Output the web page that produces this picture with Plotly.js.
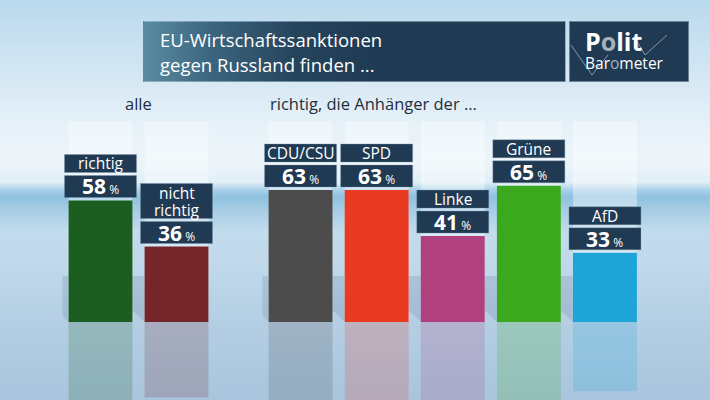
<!DOCTYPE html>
<html>
<head>
<meta charset="utf-8">
<script src="https://cdn.plot.ly/plotly-3.0.1.min.js"></script>
<style>
  html, body { margin: 0; padding: 0; }
  #wrap {
    position: relative; width: 710px; height: 400px; overflow: hidden;
    background: linear-gradient(to bottom, #b9d9ed 0px, #cfe4f2 60px, #e4f0f8 120px, #edf5fa 160px, #e2eff7 182px, #a9d0e8 190px, #8ec2e0 197px, #a3cbe4 208px, #c3dced 232px, #c1d9eb 262px, #b8d2e6 300px, #aecae1 360px, #a9c5de 400px);
  }
  #titlebox {
    position: absolute; left: 143px; top: 21px; width: 423px; height: 61px; box-sizing: border-box;
    background: linear-gradient(to right, #5a8ca1 0%, #3b657e 16%, #25445c 36%, #1f3b53 55%, #1f3b53 100%);
    border: 1px solid rgba(200,225,240,0.45);
  }
  #logobox {
    position: absolute; left: 569px; top: 21px; width: 120px; height: 61px; box-sizing: border-box;
    background: #1f3a52; border: 1px solid rgba(200,225,240,0.45);
  }
  #chart { position: absolute; left: 0; top: 0; width: 710px; height: 400px; }
</style>
</head>
<body>
<div id="wrap">
  <div id="titlebox"></div>
  <div id="logobox"></div>
  <div id="chart"></div>
</div>
<script>
// ---- data ----
const titleLines = ['EU-Wirtschaftssanktionen', 'gegen Russland finden ...'];
const headingAll = 'alle';
const headingParties = 'richtig, die Anhänger der ...';
const categoriesAll = ['richtig', 'nicht richtig'];
const labelsAll = ['richtig', 'nicht<br>richtig'];
const valuesAll = [58, 36];
const categoriesParties = ['CDU/CSU', 'SPD', 'Linke', 'Grüne', 'AfD'];
const labelsParties = ['CDU/CSU', 'SPD', 'Linke', 'Grüne', 'AfD'];
const valuesParties = [63, 63, 41, 65, 33];
const colorsAll = ['#1b5e1f', '#74262a'];
const colorsParties = ['#4c4c4c', '#e83b22', '#b0407e', '#3aa91e', '#1ea4d6'];
const scaleMax = 96;

// ---- helpers ----
const W = 710, H = 400, floorY = 322, pxPerPct = 2.095;
function rgba(hex, a) {
  const n = parseInt(hex.slice(1), 16);
  return `rgba(${(n >> 16) & 255},${(n >> 8) & 255},${n & 255},${a})`;
}
const font = 'Open Sans, Noto Sans, sans-serif';
const boxColor = '#1f3a52';

function groupTraces(cats, vals, cols, xaxis) {
  return [
    { type: 'bar', x: cats, y: cats.map(() => scaleMax), xaxis: xaxis, yaxis: 'y',
      marker: { color: 'rgba(255,255,255,0.38)', line: { width: 0 } }, hoverinfo: 'skip' },
    { type: 'bar', x: cats, y: vals.map(v => -v), xaxis: xaxis, yaxis: 'y',
      marker: { color: cols.map(c => rgba(c, 0.2)), line: { width: 0 } }, hoverinfo: 'skip' },
    { type: 'bar', x: cats, y: vals, xaxis: xaxis, yaxis: 'y',
      marker: { color: cols, line: { width: 0 } }, hoverinfo: 'skip' }
  ];
}

// label boxes (shapes anchored at each bar top, sized in pixels) + their texts
const valueBoxH = 22, nameLineH = 16.5, gap = 3;
function labelBoxes(cats, labels, vals, xref) {
  const out = [];
  cats.forEach((c, i) => {
    const lines = labels[i].split('<br>').length;
    const nameH = lines > 1 ? 35 : 18;
    const base = { type: 'rect', xref: xref, yref: 'y', xsizemode: 'pixel', ysizemode: 'pixel',
      xanchor: c, yanchor: vals[i], x0: -36, x1: 36, fillcolor: boxColor,
      line: { width: 1, color: 'rgba(120,150,175,0.35)' }, layer: 'above' };
    out.push(Object.assign({}, base, { y0: gap, y1: gap + valueBoxH }));
    out.push(Object.assign({}, base, { y0: 2 * gap + valueBoxH, y1: 2 * gap + valueBoxH + nameH }));
  });
  return out;
}
function labelTexts(cats, labels, vals, xref) {
  const out = [];
  cats.forEach((c, i) => {
    out.push({
      x: c, xref: xref, y: vals[i], yref: 'y', yanchor: 'middle', yshift: gap + valueBoxH / 2,
      text: `<b>${vals[i]}</b><span style="font-size:12px"> %</span>`,
      font: { family: font, size: 21, color: '#ffffff' }, showarrow: false
    });
    const lines = labels[i].split('<br>');
    const nameH = lines.length > 1 ? 35 : 18;
    const top = 2 * gap + valueBoxH + nameH;
    const mid = 2 * gap + valueBoxH + nameH / 2;
    lines.forEach((ln, k) => {
      const center = lines.length > 1 ? top - 9.5 - k * nameLineH : mid;
      out.push({
        x: c, xref: xref, y: vals[i], yref: 'y', yanchor: 'middle', yshift: center,
        text: ln, font: { family: font, size: 15.5, color: '#ffffff' }, showarrow: false, borderpad: 0
      });
    });
  });
  return out;
}

function shadowShapes(cats, xref) {
  return cats.map(c => ({
    type: 'path', xref: xref, yref: 'y', xsizemode: 'pixel', ysizemode: 'pixel',
    xanchor: c, yanchor: 0,
    path: 'M-32,0 L-80,46 L-32,46 Z',
    fillcolor: 'rgba(60,90,120,0.15)', line: { width: 0 }, layer: 'below'
  }));
}

const traces = [
  ...groupTraces(categoriesAll, valuesAll, colorsAll, 'x'),
  ...groupTraces(categoriesParties, valuesParties, colorsParties, 'x2')
];

const annotations = [
  { x: 158 / W, y: 1 - 40 / H, xref: 'paper', yref: 'paper', xanchor: 'left', yanchor: 'middle',
    text: titleLines[0], showarrow: false, font: { family: font, size: 18.5, color: '#ffffff' } },
  { x: 158 / W, y: 1 - 65 / H, xref: 'paper', yref: 'paper', xanchor: 'left', yanchor: 'middle',
    text: titleLines[1], showarrow: false, font: { family: font, size: 18.5, color: '#ffffff' } },
  { x: 584 / W, y: 1 - 41 / H, xref: 'paper', yref: 'paper', xanchor: 'left', yanchor: 'middle',
    text: '<b>P<span style="color:#a7b1ba">o</span>lit</b>', borderpad: 0,
    showarrow: false, font: { family: font, size: 25, color: '#ffffff' } },
  { x: 584 / W, y: 1 - 63 / H, xref: 'paper', yref: 'paper', xanchor: 'left', yanchor: 'middle',
    text: 'Bar<span style="color:#a7b1ba">o</span>meter', borderpad: 0,
    showarrow: false, font: { family: font, size: 15.5, color: '#ffffff' } },
  { x: 0.5, xref: 'x domain', y: 1 - 103 / H, yref: 'paper', yanchor: 'middle',
    text: headingAll, showarrow: false, font: { family: font, size: 16.5, color: '#22303d' } },
  { x: 0, xref: 'x2 domain', xanchor: 'left', xshift: 5, y: 1 - 103 / H, yref: 'paper', yanchor: 'middle',
    text: headingParties, showarrow: false, font: { family: font, size: 16.5, color: '#22303d' } },
  ...labelTexts(categoriesAll, labelsAll, valuesAll, 'x'),
  ...labelTexts(categoriesParties, labelsParties, valuesParties, 'x2')
];

const shapes = [
  ...shadowShapes(categoriesAll, 'x'),
  ...shadowShapes(categoriesParties, 'x2'),
  ...labelBoxes(categoriesAll, labelsAll, valuesAll, 'x'),
  ...labelBoxes(categoriesParties, labelsParties, valuesParties, 'x2'),
  { type: 'path', xref: 'paper', yref: 'paper',
    path: `M${571/W},${1-45/H} L${592/W},${1-75/H} L${608/W},${1-55/H}`,
    line: { color: 'rgba(160,175,190,0.8)', width: 1 } },
  { type: 'path', xref: 'paper', yref: 'paper',
    path: `M${636/W},${1-40/H} L${645/W},${1-55/H} L${667/W},${1-35/H}`,
    line: { color: 'rgba(160,175,190,0.8)', width: 1 } }
];

const axisOff = { showgrid: false, zeroline: false, showticklabels: false, ticks: '', showline: false, fixedrange: true };
const layout = {
  width: W, height: H,
  margin: { l: 0, r: 0, t: 0, b: 0, pad: 0 },
  paper_bgcolor: 'rgba(0,0,0,0)', plot_bgcolor: 'rgba(0,0,0,0)',
  showlegend: false, barmode: 'overlay', bargap: 0.16,
  xaxis: Object.assign({ domain: [62.5 / W, 214.5 / W], anchor: 'y', range: [-0.5, categoriesAll.length - 0.5] }, axisOff),
  xaxis2: Object.assign({ domain: [262.5 / W, 643 / W], anchor: 'y', range: [-0.5, categoriesParties.length - 0.5] }, axisOff),
  yaxis: Object.assign({ range: [-(H - floorY) / pxPerPct, floorY / pxPerPct], domain: [0, 1] }, axisOff),
  annotations: annotations,
  shapes: shapes
};

Plotly.newPlot('chart', traces, layout, { displayModeBar: false, staticPlot: true });
</script>
</body>
</html>
